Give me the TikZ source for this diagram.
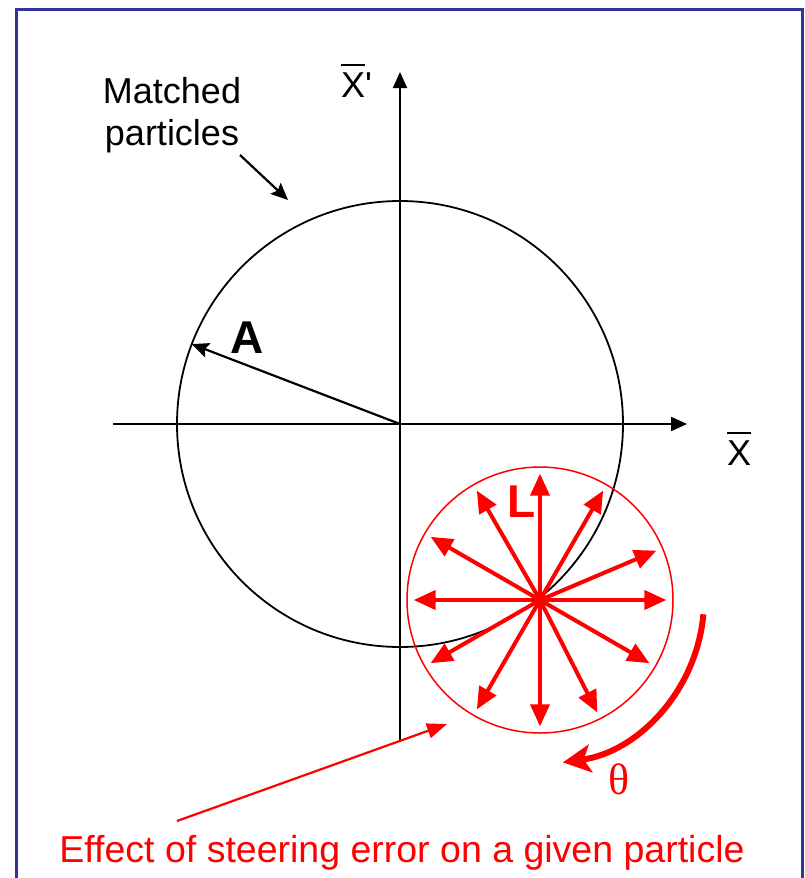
\documentclass[tikz,border=0pt]{standalone}
\usepackage{fontspec}
\setmainfont{Liberation Sans}
\newfontfamily\thetafont{Liberation Serif}
\usetikzlibrary{positioning, arrows.meta, calc}
\definecolor{frameBlue}{HTML}{333399}
\definecolor{errRed}{HTML}{FF0000}
\definecolor{inkBlack}{HTML}{000000}
\newcommand{\barX}{\makebox[0pt][l]{\rule[31pt]{0.66em}{1.6pt}}X}
\tikzset{
  frame/.style={draw=frameBlue, line width=3pt},
  axis/.style={
    -{Triangle[length=16pt, width=14pt]}, line width=2pt, color=inkBlack,
  },
  pointer/.style={
    -{Stealth[length=17pt, width=15pt, inset=3pt]}, line width=2.2pt, color=inkBlack,
  },
  ray/.style={
    -{Triangle[length=22pt, width=19pt]}, line width=4pt, color=errRed,
  },
  thetaarrow/.style={
    -{Stealth[length=28pt, width=28pt, inset=7pt]}, line width=6pt, color=errRed,
  },
  notearrow/.style={
    -{Triangle[length=20pt, width=15pt]}, line width=2.2pt, color=errRed,
  },
  lbl/.style={inner sep=0pt, font=\fontsize{36}{42}\selectfont, text=inkBlack},
  biglbl/.style={inner sep=0pt, font=\fontsize{46}{50}\selectfont\bfseries},
}

\begin{document}
\begin{tikzpicture}[x=1pt, y=1pt]

  % === Page and frame ===
  \useasboundingbox (0,0) rectangle (805,-878);
  \clip (0,0) rectangle (805,-878);
  \draw[frame] (16,-9) rectangle (802,-920);

  % === Phase-space axes ===
  \coordinate (O) at (400,-424);
  \coordinate (xmin) at (113,-424);
  \coordinate (xmax) at (687,-424);
  \coordinate (ymin) at (400,-740);
  \coordinate (ymax) at (400,-72);
  \draw[axis] (xmin) -- (xmax);
  \draw[axis] (ymin) -- (ymax);
  \node[lbl, anchor=base west] (xlab) at (727,-465) {\barX};
  \node[lbl, anchor=base west] (xplab) at (341,-97) {\barX\textquotesingle};

  % === Matched beam ellipse ===
  \node[circle, draw=inkBlack, line width=1.8pt, minimum size=446pt,
    inner sep=0pt, outer sep=0pt] (beam) at (O) {};
  \draw[pointer] (O) -- (beam.159);
  \node[biglbl, anchor=base west] (amp) at (230,-353) {A};

  % === Label for matched particles ===
  \node[lbl, anchor=base] (matched) at (172,-103) {Matched};
  \node[lbl, anchor=base] (particles) at ($(matched.base)+(0,-42)$) {particles};
  \coordinate (mtail) at (240,-155);
  \coordinate (mtip) at (288,-200);
  \draw[pointer] (mtail) -- (mtip);

  % === Steering error around one particle ===
  \coordinate (P) at (540,-600);
  \node[circle, draw=errRed, line width=1.5pt, minimum size=266pt,
    inner sep=0pt, outer sep=0pt] (err) at (P) {};
  \foreach \a in {0,23,60,90,120,150,180,210,240,270,297,330}
    \draw[ray] (P) -- ($(P)!0.95!(err.\a)$);
  \node[biglbl, text=errRed, anchor=base west] (len) at (507,-517) {L};

  % === Rotation angle ===
  \coordinate (thstart) at ($(P)+(-5:164)$);
  \draw[thetaarrow] (thstart) arc[start angle=-5, end angle=-82, radius=164];
  \node[inner sep=0pt, font=\fontsize{44}{48}\thetafont, text=errRed,
    anchor=base west] (theta) at (608,-794) {θ};

  % === Caption with pointer ===
  \node[lbl, text=errRed, anchor=base, font=\fontsize{37.5}{42}\selectfont]
    (caption) at (402,-862) {Effect of steering error on a given particle};
  \coordinate (ntail) at (177,-821);
  \coordinate (ntip) at (447,-724);
  \draw[notearrow] (ntail) -- (ntip);

\end{tikzpicture}
\end{document}
